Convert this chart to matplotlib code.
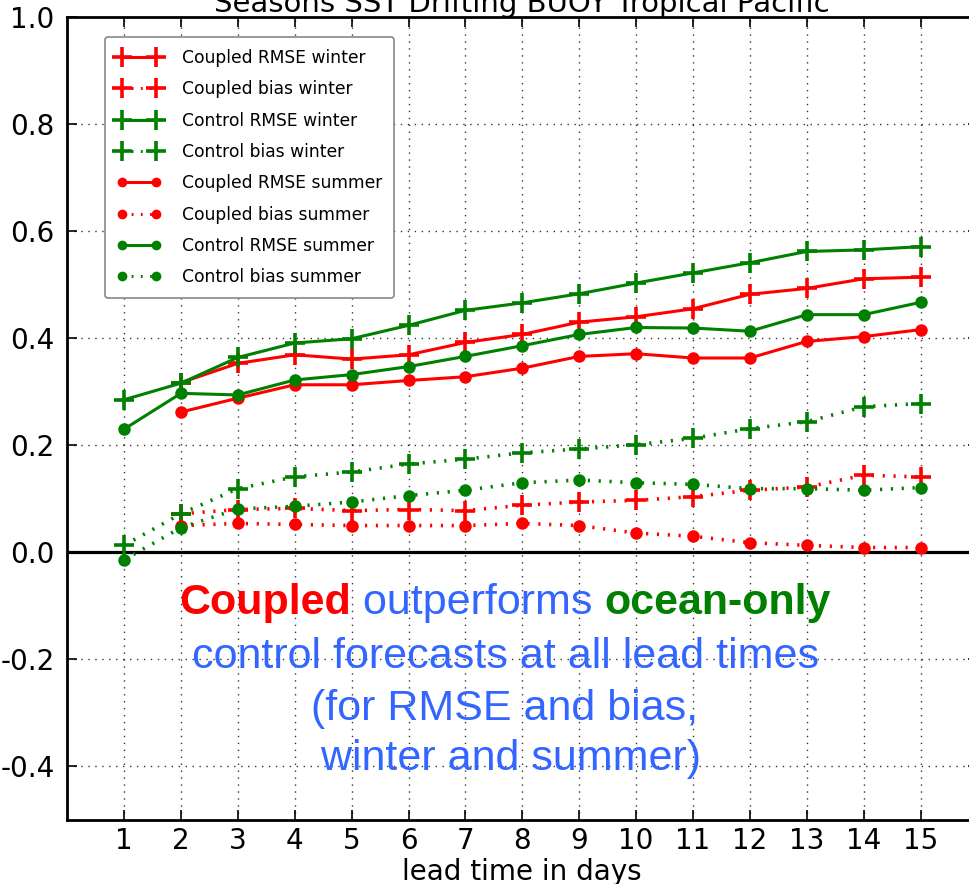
import matplotlib
matplotlib.use("Agg")
import matplotlib.pyplot as plt
from matplotlib.lines import Line2D

plt.rcParams['axes.unicode_minus'] = False

days = list(range(1, 16))
days_from2 = list(range(2, 16))

control_rmse_winter = [0.285, 0.316, 0.364, 0.391, 0.399, 0.424, 0.452, 0.466, 0.483,
                       0.503, 0.522, 0.541, 0.562, 0.565, 0.571]
coupled_rmse_winter = [0.317, 0.353, 0.369, 0.361, 0.369, 0.392, 0.407, 0.430, 0.440,
                       0.455, 0.482, 0.493, 0.511, 0.514]
control_rmse_summer = [0.230, 0.297, 0.294, 0.322, 0.332, 0.347, 0.366, 0.386, 0.407,
                       0.420, 0.419, 0.413, 0.444, 0.444, 0.467]
coupled_rmse_summer = [0.262, 0.288, 0.313, 0.313, 0.321, 0.328, 0.344, 0.366, 0.371,
                       0.363, 0.363, 0.394, 0.403, 0.416]
control_bias_winter = [0.013, 0.072, 0.119, 0.141, 0.150, 0.165, 0.174, 0.186, 0.193,
                       0.201, 0.213, 0.231, 0.244, 0.272, 0.278]
control_bias_summer = [-0.014, 0.046, 0.081, 0.086, 0.094, 0.106, 0.116, 0.130, 0.135,
                       0.130, 0.127, 0.119, 0.119, 0.116, 0.121]
coupled_bias_winter = [0.072, 0.080, 0.082, 0.078, 0.080, 0.078, 0.088, 0.094, 0.097,
                       0.104, 0.116, 0.122, 0.144, 0.141]
coupled_bias_summer = [0.050, 0.054, 0.052, 0.050, 0.050, 0.050, 0.054, 0.050, 0.036,
                       0.030, 0.018, 0.013, 0.009, 0.009]

y_ticks = [-0.4, -0.2, 0.0, 0.2, 0.4, 0.6, 0.8, 1.0]

RED = '#ff0000'
GREEN = '#008000'
BLUE = '#3366ff'

fig = plt.figure(figsize=(9.69, 8.84), dpi=100)
ax = fig.add_axes([67.1 / 969, 1 - 820 / 884, 910.4 / 969, 803 / 884])

ax.axhline(0, color='black', lw=2.3, zorder=1.5)

plus_kw = dict(marker='+', markersize=15, markeredgewidth=2.6)
dot_kw = dict(marker='o', markersize=9, markeredgewidth=0)
DOT = (0, (0.6, 2.4))

ax.plot(days_from2, coupled_rmse_winter, color=RED, lw=2.2, ls='-', **plus_kw, zorder=3)
ax.plot(days_from2, coupled_bias_winter, color=RED, lw=2.6, ls=DOT, **plus_kw, zorder=3)
ax.plot(days, control_rmse_winter, color=GREEN, lw=2.2, ls='-', **plus_kw, zorder=3)
ax.plot(days, control_bias_winter, color=GREEN, lw=2.6, ls=DOT, **plus_kw, zorder=3)
ax.plot(days_from2, coupled_rmse_summer, color=RED, lw=2.2, ls='-', **dot_kw, zorder=3)
ax.plot(days_from2, coupled_bias_summer, color=RED, lw=2.6, ls=DOT, **dot_kw, zorder=3)
ax.plot(days, control_rmse_summer, color=GREEN, lw=2.2, ls='-', **dot_kw, zorder=3)
ax.plot(days, control_bias_summer, color=GREEN, lw=2.6, ls=DOT, **dot_kw, zorder=3)

ax.set_xlim(0, 16)
ax.set_ylim(-0.5, 1.0)
ax.set_xticks(days)
ax.set_yticks(y_ticks)
ax.set_yticklabels([f"{v:.1f}" for v in y_ticks])
ax.tick_params(axis='both', which='both', direction='in', length=7, width=1.2,
               labelsize=20, colors='black', top=True, right=True, pad=9)
ax.tick_params(axis='x', pad=5)
ax.grid(True, color='black', linestyle=(0, (1, 4)), lw=1.0, alpha=0.8)
ax.set_axisbelow(True)
for s in ax.spines.values():
    s.set_linewidth(2.0)
    s.set_color('black')

ax.set_xlabel('lead time in days', fontsize=20, labelpad=2)
ax.text(0.5, 1.0065, 'Seasons SST Drifting BUOY Tropical Pacific', transform=ax.transAxes,
        ha='center', va='baseline', fontsize=21)

# legend with proxies
leg_handles = [
    Line2D([], [], color=RED, lw=2.2, ls='-', marker='+', markersize=14, markeredgewidth=2.6),
    Line2D([], [], color=RED, lw=2.2, ls=DOT, marker='+', markersize=14, markeredgewidth=2.6),
    Line2D([], [], color=GREEN, lw=2.2, ls='-', marker='+', markersize=14, markeredgewidth=2.6),
    Line2D([], [], color=GREEN, lw=2.2, ls=DOT, marker='+', markersize=14, markeredgewidth=2.6),
    Line2D([], [], color=RED, lw=2.2, ls='-', marker='o', markersize=7, markeredgewidth=0),
    Line2D([], [], color=RED, lw=2.2, ls=DOT, marker='o', markersize=7, markeredgewidth=0),
    Line2D([], [], color=GREEN, lw=2.2, ls='-', marker='o', markersize=7, markeredgewidth=0),
    Line2D([], [], color=GREEN, lw=2.2, ls=DOT, marker='o', markersize=7, markeredgewidth=0),
]
leg_labels = ['Coupled RMSE winter', 'Coupled bias winter', 'Control RMSE winter',
              'Control bias winter', 'Coupled RMSE summer', 'Coupled bias summer',
              'Control RMSE summer', 'Control bias summer']
leg = ax.legend(leg_handles, leg_labels, loc='upper left',
                bbox_to_anchor=((105 - 67.1) / 910.4, 1 - (37 - 17) / 803),
                borderaxespad=0, fontsize=12.3, numpoints=2, handlelength=2.6,
                handletextpad=1.2, labelspacing=0.78, borderpad=0.7,
                fancybox=True, framealpha=1, edgecolor='#888888')
leg.get_frame().set_linewidth(1.2)
leg.set_zorder(5)

# annotation text
tfont = 'Liberation Sans'
fs = 31
xc = 505
def px2ax(x, y):
    return ((x - 67.1) / 910.4, 1 - (y - 17) / 803)

t_line1 = ['Coupled', ' outperforms ', 'ocean-only']
t_colors = [RED, BLUE, GREEN]
t_weights = ['bold', 'normal', 'bold']
renderer = fig.canvas.get_renderer()
widths = []
for s, c, w in zip(t_line1, t_colors, t_weights):
    tt = ax.text(0, 0, s, fontsize=fs, family=tfont, weight=w, color=c)
    widths.append(tt.get_window_extent(renderer=renderer).width)
    tt.remove()
total = sum(widths)
x0 = xc - total / 2
y1 = 603
cur = x0
for s, c, w, wd in zip(t_line1, t_colors, t_weights, widths):
    ax.text(*px2ax(cur, y1), s, transform=ax.transAxes, fontsize=fs, family=tfont,
            weight=w, color=c, ha='left', va='center', zorder=6)
    cur += wd

other_lines = ['control forecasts at all lead times', '(for RMSE and bias,', ' winter and summer)']
other_y = [657, 709, 759]
for s, yy in zip(other_lines, other_y):
    ax.text(*px2ax(xc, yy), s, transform=ax.transAxes, fontsize=fs, family=tfont,
            color=BLUE, ha='center', va='center', zorder=6)

fig.savefig('out.png', dpi=100)
